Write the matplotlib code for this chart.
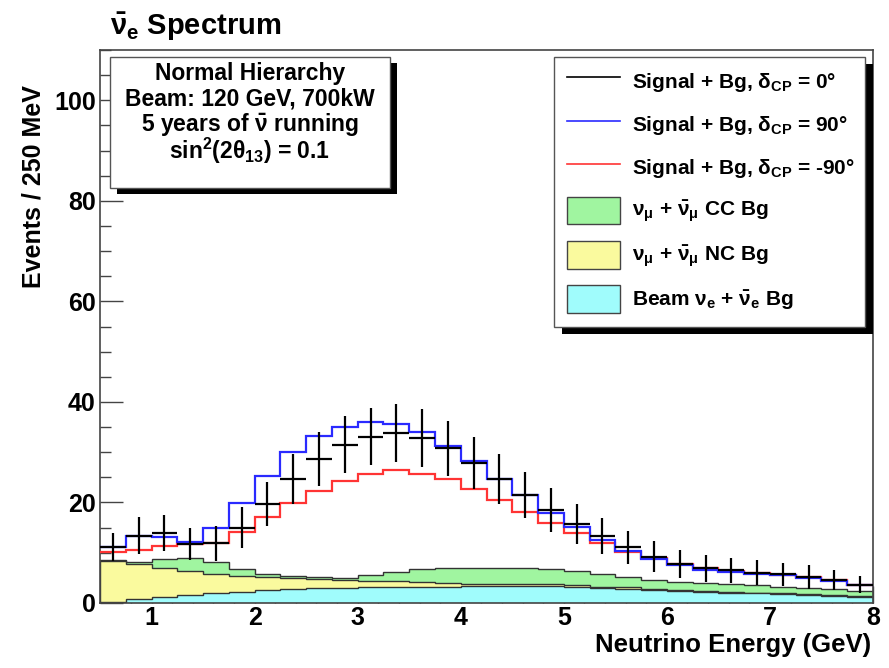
import numpy as np
import matplotlib
matplotlib.use('Agg')
from matplotlib import pyplot as plt
from matplotlib.patches import Rectangle, Patch
from matplotlib.lines import Line2D
from matplotlib.ticker import MultipleLocator

plt.rcParams['font.family'] = ['Liberation Sans', 'DejaVu Sans']
plt.rcParams['font.weight'] = 'bold'
plt.rcParams['axes.labelweight'] = 'bold'
plt.rcParams['axes.titleweight'] = 'bold'
plt.rcParams['mathtext.default'] = 'regular'
plt.rcParams['mathtext.fontset'] = 'custom'
plt.rcParams['mathtext.rm'] = 'Liberation Sans:bold'
plt.rcParams['mathtext.it'] = 'Liberation Sans:bold'
plt.rcParams['mathtext.bf'] = 'Liberation Sans:bold'

# 250 MeV bins from 0.5 to 8 GeV
edges = np.arange(0.5, 8.01, 0.25)

# signal + bg, dcp = 0 (crosses) and its error bars
sig_0 = [11.2, 13.4, 13.9, 11.8, 11.9, 15.0, 19.7, 24.7, 28.7, 31.5,
         33.1, 33.8, 32.8, 30.8, 27.9, 24.7, 21.5, 18.5, 15.7, 13.3,
         11.1, 9.2, 7.8, 6.9, 6.5, 6.0, 5.7, 5.2, 4.5, 3.6]
err_0 = [2.8, 3.7, 3.65, 3.2, 3.5, 4.0, 4.4, 5.0, 5.4, 5.6,
         5.7, 5.7, 5.7, 5.5, 5.2, 5.0, 4.65, 4.3, 3.95, 3.65,
         3.3, 3.05, 2.75, 2.7, 2.5, 2.5, 2.3, 2.4, 2.0, 1.7]
# signal + bg, dcp = 90
sig_90 = [11.2, 13.4, 13.2, 12.2, 14.9, 19.9, 25.3, 30.1, 33.3, 35.1,
          36.0, 35.6, 34.0, 31.3, 28.3, 24.7, 21.4, 18.0, 15.2, 12.5,
          10.4, 8.7, 7.5, 6.6, 6.1, 5.8, 5.5, 5.0, 4.4, 3.5]
# signal + bg, dcp = -90
sig_m90 = [10.1, 10.6, 11.4, 11.7, 11.9, 14.2, 17.2, 19.9, 22.3, 24.3,
           25.6, 26.5, 25.6, 24.6, 22.6, 20.4, 18.2, 16.0, 14.0, 12.0,
           10.2, 8.9, 7.8, 6.9, 6.4, 5.9, 5.6, 5.1, 4.5, 3.6]

# backgrounds
beam_bg = [0.2, 0.7, 1.1, 1.5, 1.9, 2.2, 2.5, 2.7, 2.9, 3.0,
           3.1, 3.1, 3.2, 3.25, 3.3, 3.4, 3.4, 3.35, 3.2, 2.95,
           2.8, 2.6, 2.4, 2.2, 2.0, 1.9, 1.8, 1.65, 1.45, 1.2]
nc_bg = [8.2, 7.0, 5.9, 4.9, 3.9, 3.2, 2.6, 2.3, 1.85, 1.55,
         1.3, 1.2, 0.9, 0.7, 0.5, 0.3, 0.3, 0.35, 0.4, 0.3,
         0.3, 0.25, 0.25, 0.2, 0.2, 0.17, 0.2, 0.2, 0.2, 0.2]
cc_bg = [0.2, 0.5, 1.8, 2.5, 2.3, 1.35, 0.65, 0.4, 0.35, 0.45,
         1.2, 1.9, 2.6, 2.95, 3.2, 3.35, 3.35, 3.05, 2.8, 2.5,
         2.1, 1.7, 1.55, 1.5, 1.5, 1.43, 1.2, 1.2, 1.1, 0.95]

info_lines = ['Normal Hierarchy', 'Beam: 120 GeV, 700kW',
              r'5 years of $\bar{\nu}$ running',
              r'sin$^{2}$(2θ$_{13}$) = 0.1']
labels = [r'Signal + Bg, δ$_{CP}$ = 0°',
          r'Signal + Bg, δ$_{CP}$ = 90°',
          r'Signal + Bg, δ$_{CP}$ = -90°',
          r'ν$_{μ}$ + $\bar{ν}_{μ}$ CC Bg',
          r'ν$_{μ}$ + $\bar{ν}_{μ}$ NC Bg',
          r'Beam ν$_{e}$ + $\bar{ν}_{e}$ Bg']

c_cc = '#a0f5a0'
c_nc = '#fafa9e'
c_beam = '#a0fcfc'
c_blue = '#2a2aff'
c_red = '#ff3434'

centers = (edges[:-1] + edges[1:]) / 2
beam_top = np.array(beam_bg)
nc_top = beam_top + np.array(nc_bg)
cc_top = nc_top + np.array(cc_bg)

fig = plt.figure(figsize=(8.89, 6.68), dpi=100)
ax = fig.add_axes([100 / 889, 65 / 668, 773 / 889, 553 / 668])

# stacked backgrounds, drawn from the top of the stack down
for top, col in [(cc_top, c_cc), (nc_top, c_nc), (beam_top, c_beam)]:
    ax.stairs(top, edges, baseline=0, fill=True, facecolor=col,
              edgecolor='#333333', linewidth=1, zorder=2)

ax.stairs(sig_m90, edges, baseline=None, color=c_red, linewidth=1.6, zorder=3)
ax.stairs(sig_90, edges, baseline=None, color=c_blue, linewidth=1.6, zorder=3.1)
ax.errorbar(centers, sig_0, yerr=err_0, xerr=0.125, fmt='none', ecolor='black',
            elinewidth=1.6, capsize=0, zorder=3.2)

ax.set_xlim(0.5, 8)
ax.set_ylim(0, 110)
ax.xaxis.set_major_locator(MultipleLocator(1))
ax.xaxis.set_minor_locator(MultipleLocator(0.2))
ax.yaxis.set_major_locator(MultipleLocator(20))
ax.yaxis.set_minor_locator(MultipleLocator(5))
ax.tick_params(axis='y', which='major', direction='in', length=16.5, width=1,
               color='#444444', labelsize=18, pad=3)
ax.tick_params(axis='y', which='minor', direction='in', length=8, width=1, color='#444444')
ax.tick_params(axis='x', which='major', direction='in', length=12, width=1,
               color='#444444', labelsize=18, pad=2)
ax.tick_params(axis='x', which='minor', direction='in', length=6, width=1, color='#444444')
for sp in ax.spines.values():
    sp.set_color('#444444')
    sp.set_linewidth(1.2)

ax.set_xlabel('Neutrino Energy (GeV)', loc='right', fontsize=18.5)
ax.xaxis.set_label_coords(0.998, -0.055)
ax.set_ylabel('Events / 250 MeV', loc='top', fontsize=18)
ax.yaxis.set_label_coords(-0.071, 0.937)
ax.set_title(r'$\bar{\nu}_{e}$ Spectrum', loc='left', fontsize=21, x=0.013, pad=11)

# info box with shadow
ax.add_patch(Rectangle((0.0129 + 0.009, 0.7505 - 0.011), 0.3623, 0.2368,
                       transform=ax.transAxes, facecolor='black', zorder=5, clip_on=False))
ax.add_patch(Rectangle((0.0129, 0.7505), 0.3623, 0.2368, transform=ax.transAxes,
                       facecolor='white', edgecolor='#555555', linewidth=1, zorder=6))
for i, line in enumerate(info_lines):
    ax.text(0.194, (603 - (73 + 26 * i)) / 553, line, transform=ax.transAxes,
            ha='center', va='center', fontsize=16.5, zorder=7)

# legend box with shadow
ax.add_patch(Rectangle((0.5873 + 0.0103, 0.4991 - 0.0127), 0.4023, 0.4882,
                       transform=ax.transAxes, facecolor='black', zorder=5, clip_on=False))
ax.add_patch(Rectangle((0.5873, 0.4991), 0.4023, 0.4882, transform=ax.transAxes,
                       facecolor='white', edgecolor='#555555', linewidth=1, zorder=6))
handles = [Line2D([], [], color='black', linewidth=1.2),
           Line2D([], [], color=c_blue, linewidth=1.2),
           Line2D([], [], color=c_red, linewidth=1.2),
           Patch(facecolor=c_cc, edgecolor='#444444', linewidth=1),
           Patch(facecolor=c_nc, edgecolor='#444444', linewidth=1),
           Patch(facecolor=c_beam, edgecolor='#444444', linewidth=1)]
leg = ax.legend(handles, labels, loc='upper left', bbox_to_anchor=(0.6041, 0.969),
                frameon=False, fontsize=15, handlelength=2.55, handleheight=1.67,
                handletextpad=0.58, labelspacing=0.74, borderpad=0, borderaxespad=0)
leg.set_zorder(7)

fig.savefig('out.png', dpi=100)
